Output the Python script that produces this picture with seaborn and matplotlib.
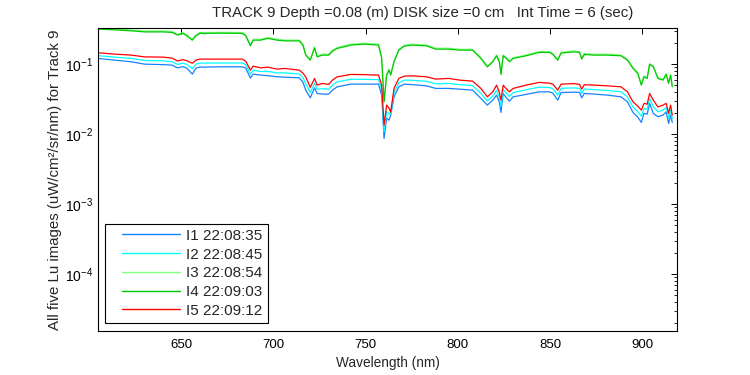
import pandas as pd
import matplotlib
matplotlib.use("Agg")
import matplotlib.pyplot as plt
from matplotlib.lines import Line2D
from matplotlib.legend_handler import HandlerLine2D
import seaborn as sns

# ==========================================
# dados (comprimento de onda em nm)
# ==========================================
wavelength = [605, 614, 623, 630, 640, 645, 648, 651, 653, 656, 658, 660, 672, 683, 685,
              687.5, 689, 693, 697, 702, 706, 714, 716, 717.5, 720, 722.3, 723.7, 726.5,
              730, 732, 734.6, 742, 749, 757, 758.7, 760, 761.4, 762.7, 763.6, 765.4, 768,
              771, 775, 783, 788, 795, 801, 808, 812.5, 816, 819, 821, 822.5, 823.4, 824.6,
              826, 828, 830, 837, 844, 849.7, 851.5, 854.2, 856, 863, 866, 867.2, 868.6,
              874, 881, 888.5, 892, 895, 897.6, 899.5, 901, 902.7, 904, 906, 908.5, 911.3,
              913, 914.3, 915.4, 916.3]

i1 = [0.1206, 0.114, 0.108, 0.100, 0.0984, 0.0968, 0.0885, 0.0921, 0.0877, 0.0720, 0.0877,
      0.0906, 0.0915, 0.0915, 0.0877, 0.0631, 0.0720, 0.0697, 0.0685, 0.0659, 0.0652, 0.0637,
      0.0553, 0.0425, 0.0330, 0.0459, 0.0381, 0.0373, 0.0373, 0.0425, 0.0474, 0.0518, 0.0518,
      0.0518, 0.0361, 0.00869, 0.0169, 0.0158, 0.0187, 0.0341, 0.0474, 0.0518, 0.0509, 0.0490,
      0.0450, 0.0450, 0.0439, 0.0425, 0.0324, 0.0260, 0.0306, 0.0361, 0.0286, 0.0204, 0.0381,
      0.0338, 0.0296, 0.0341, 0.0369, 0.0402, 0.0402, 0.0385, 0.0306, 0.0392, 0.0398, 0.0394,
      0.0330, 0.0381, 0.0373, 0.0361, 0.0341, 0.0289, 0.0204, 0.0175, 0.0147, 0.0198, 0.0193,
      0.0275, 0.0198, 0.0177, 0.0187, 0.0208, 0.0142, 0.0187, 0.0147]

i2 = [0.1322, 0.1259, 0.1205, 0.1127, 0.1113, 0.1087, 0.0991, 0.1034, 0.0991, 0.0861, 0.1000,
      0.1034, 0.1039, 0.1039, 0.0982, 0.0720, 0.0821, 0.0785, 0.0788, 0.0748, 0.0752, 0.0723,
      0.0641, 0.0529, 0.0392, 0.0536, 0.0437, 0.0445, 0.0437, 0.0501, 0.0559, 0.0608, 0.0606,
      0.0601, 0.0425, 0.01081, 0.0210, 0.0193, 0.0196, 0.0392, 0.0544, 0.0591, 0.0589, 0.0568,
      0.0524, 0.0530, 0.0509, 0.0493, 0.0382, 0.0298, 0.0351, 0.0425, 0.0337, 0.0250, 0.0437,
      0.0392, 0.0345, 0.0392, 0.0430, 0.0469, 0.0464, 0.0447, 0.0361, 0.0451, 0.0458, 0.0450,
      0.0381, 0.0440, 0.0432, 0.0421, 0.0402, 0.0341, 0.0243, 0.0210, 0.0180, 0.0233, 0.0227,
      0.0324, 0.0246, 0.0208, 0.0221, 0.0239, 0.0168, 0.0221, 0.0166]

i3 = [0.326, 0.318, 0.308, 0.298, 0.298, 0.293, 0.268, 0.283, 0.262, 0.227, 0.262, 0.283,
      0.285, 0.283, 0.262, 0.188, 0.227, 0.227, 0.240, 0.227, 0.221, 0.221, 0.193, 0.139,
      0.117, 0.176, 0.131, 0.139, 0.139, 0.158, 0.173, 0.193, 0.199, 0.193, 0.126, 0.0298,
      0.0718, 0.0846, 0.0718, 0.111, 0.163, 0.186, 0.193, 0.188, 0.169, 0.169, 0.163, 0.163,
      0.124, 0.0942, 0.111, 0.135, 0.111, 0.0734, 0.135, 0.127, 0.111, 0.124, 0.135, 0.151,
      0.151, 0.142, 0.117, 0.148, 0.155, 0.151, 0.122, 0.142, 0.139, 0.139, 0.135, 0.117,
      0.0894, 0.0758, 0.0516, 0.0679, 0.0644, 0.102, 0.0942, 0.0644, 0.0609, 0.0734, 0.0546,
      0.0718, 0.0488]

i4 = [0.316, 0.309, 0.299, 0.289, 0.289, 0.284, 0.260, 0.275, 0.254, 0.220, 0.254, 0.275,
      0.277, 0.275, 0.254, 0.1826, 0.220, 0.220, 0.233, 0.220, 0.215, 0.215, 0.187, 0.1345,
      0.114, 0.171, 0.127, 0.1345, 0.1345, 0.1534, 0.1676, 0.187, 0.193, 0.187, 0.122, 0.0289,
      0.0697, 0.0821, 0.0697, 0.108, 0.1585, 0.181, 0.187, 0.1826, 0.1638, 0.1638, 0.1585,
      0.1585, 0.1206, 0.0915, 0.108, 0.1315, 0.108, 0.0713, 0.1315, 0.123, 0.108, 0.1206,
      0.1315, 0.147, 0.147, 0.1376, 0.114, 0.1436, 0.150, 0.147, 0.118, 0.1376, 0.1345,
      0.1345, 0.1315, 0.114, 0.0868, 0.0736, 0.0501, 0.0659, 0.0625, 0.099, 0.0915, 0.0625,
      0.0591, 0.0713, 0.0530, 0.0697, 0.0474]

i5 = [0.145, 0.139, 0.1345, 0.127, 0.126, 0.122, 0.111, 0.116, 0.112, 0.103, 0.114, 0.118,
      0.118, 0.118, 0.110, 0.0821, 0.0936, 0.0885, 0.0906, 0.0848, 0.0868, 0.0821, 0.0744,
      0.0659, 0.0465, 0.0625, 0.0501, 0.0530, 0.0513, 0.0591, 0.0659, 0.0713, 0.0708, 0.0697,
      0.0501, 0.01345, 0.0260, 0.0235, 0.0206, 0.0450, 0.0625, 0.0674, 0.0681, 0.0659, 0.0611,
      0.0625, 0.0591, 0.0572, 0.0450, 0.0341, 0.0402, 0.0501, 0.0398, 0.0306, 0.0501, 0.0454,
      0.0402, 0.0450, 0.0501, 0.0548, 0.0535, 0.0518, 0.0425, 0.0518, 0.0527, 0.0513, 0.0439,
      0.0509, 0.0501, 0.0490, 0.0474, 0.0402, 0.0289, 0.0251, 0.0220, 0.0275, 0.0268, 0.0381,
      0.0306, 0.0245, 0.0260, 0.0275, 0.0198, 0.0260, 0.0187]

nomes = ["I1 22:08:35", "I2 22:08:45", "I3 22:08:54", "I4 22:09:03", "I5 22:09:12"]
cores = ["#1482ff", "#00ffff", "#80ff80", "#00c800", "#ff0000"]

# monta o dataframe longo para o seaborn
partes = []
for nome, vals in zip(nomes, [i1, i2, i3, i4, i5]):
    partes.append(pd.DataFrame({"wl": wavelength, "lu": vals, "serie": nome}))
df = pd.concat(partes, ignore_index=True)

sns.set_theme(style="white")
plt.rcParams["font.family"] = ["Liberation Sans", "DejaVu Sans"]
plt.rcParams["mathtext.fontset"] = "custom"
plt.rcParams["mathtext.rm"] = "Liberation Sans"
plt.rcParams["mathtext.it"] = "Liberation Sans"


# linha da legenda com recuo à esquerda (estilo MATLAB)
class HandlerRecuo(HandlerLine2D):
    def create_artists(self, legend, orig_handle, xdescent, ydescent, width, height,
                       fontsize, trans):
        arts = super().create_artists(legend, orig_handle, xdescent, ydescent, width,
                                      height, fontsize, trans)
        xd = list(arts[0].get_xdata())
        yd = list(arts[0].get_ydata())
        arts[0].set_data([xd[0] + 0.17 * (xd[-1] - xd[0]), xd[-1]], [yd[0], yd[-1]])
        return arts


fig = plt.figure(figsize=(7.5, 3.75), dpi=100)
ax = fig.add_axes([0.131, 0.117, 0.772, 0.808])

sns.lineplot(data=df, x="wl", y="lu", hue="serie", palette=dict(zip(nomes, cores)),
             estimator=None, sort=False, linewidth=0.9, ax=ax, legend=False)

ax.set_yscale("log")
ax.set_xlim(605, 919)
ax.set_ylim(1.53e-5, 0.327)
ax.set_xticks([650, 700, 750, 800, 850, 900])

for s in ax.spines.values():
    s.set_color("black")
    s.set_linewidth(0.8)
ax.tick_params(which="both", direction="in", top=True, right=True, labelsize=10,
               colors="black")
ax.tick_params(axis="x", labelsize=9.5, pad=6)
ax.tick_params(which="major", length=4, width=0.7)
ax.tick_params(which="minor", length=2.2, width=0.6)

ax.set_xlabel("Wavelength (nm)", fontsize=9.8, labelpad=3)
ax.set_ylabel("All five Lu images (uW/cm²/sr/nm) for Track 9", fontsize=10.8, labelpad=2)
fig.text(0.563, 0.966, "TRACK 9 Depth =0.08 (m) DISK size =0 cm   Int Time = 6 (sec)",
         ha="center", va="center", fontsize=10.8)

handles = [Line2D([], [], color=c, linewidth=1.0) for c in cores]
leg = ax.legend(handles, nomes, loc="lower left", bbox_to_anchor=(0.012, 0.028),
                fontsize=11, handlelength=4.6, handletextpad=0.4, labelspacing=0.31,
                borderpad=0.32, borderaxespad=0, fancybox=False, framealpha=1,
                handler_map={Line2D: HandlerRecuo()})
leg.get_frame().set_edgecolor("black")
leg.get_frame().set_linewidth(0.8)

fig.savefig("out.png", dpi=100, facecolor="white")
